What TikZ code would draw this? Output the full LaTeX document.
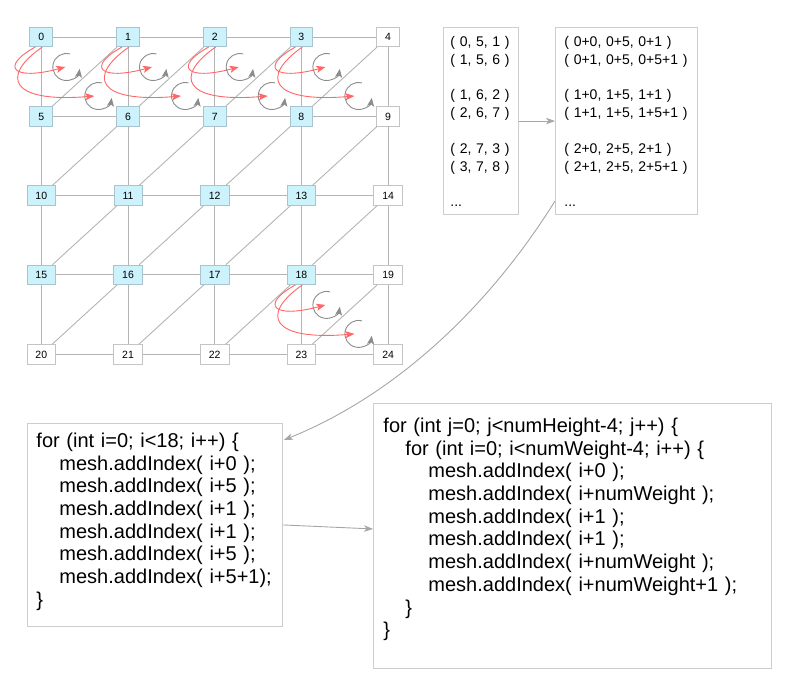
\documentclass[tikz,border=0pt]{standalone}
\usepackage{fontspec}
\setmainfont{Liberation Sans}
\usetikzlibrary{arrows.meta,calc}
\definecolor{nodeblue}{HTML}{CCF2FC}
\definecolor{nodeblueb}{HTML}{A9C4CF}
\definecolor{nodewb}{HTML}{C4C4C4}
\definecolor{gridgray}{HTML}{B4B4B4}
\definecolor{conngray}{HTML}{A6A6A6}
\definecolor{arcgray}{HTML}{8C8C8C}
\definecolor{redc}{HTML}{FF6666}
\definecolor{boxgray}{HTML}{CDCDCD}
\newcommand{\loopmark}[1]{%
  \draw[looparrow, shift={(#1)}, scale=1.08] (3.235,-12.074)
    .. controls (-3.623,-13.911) and (-10.638,-9.669) .. (-12.195,-2.742)
    .. controls (-13.752,4.185) and (-9.226,11.025) .. (-2.241,12.298)
    .. controls (4.744,13.571) and (11.390,8.771) .. (12.378,1.740);}
\begin{document}
\begin{tikzpicture}[x=1pt,y=-1pt,
  vtx/.style={rectangle, line width=0.8pt, minimum height=19.5pt, inner xsep=8.5pt, inner ysep=0pt,
    text height=7.6pt, text depth=0pt, font=\fontsize{10.5pt}{12pt}\selectfont},
  gridline/.style={draw=gridgray, line width=0.9pt},
  redarrow/.style={draw=redc, line width=0.9pt, -{Stealth[length=9pt,width=7pt,inset=2pt]}},
  looparrow/.style={draw=arcgray, line width=0.9pt, -{Stealth[length=8.5pt,width=7pt,inset=2pt]}},
  conn/.style={draw=conngray, line width=0.9pt, -{Stealth[length=9pt,width=6.5pt,inset=2.5pt]}},
  listbox/.style={draw=boxgray, line width=0.9pt, anchor=north west, align=left, inner ysep=7pt,
    font=\fontsize{14pt}{17.8pt}\selectfont},
  codebox/.style={draw=boxgray, line width=0.9pt, anchor=north west, align=left, inner ysep=9pt,
    font=\fontsize{20pt}{22.7pt}\selectfont}
]
\useasboundingbox (0,0) rectangle (800,700);

% grid vertices
\foreach \i in {0,...,24}{
  \pgfmathtruncatemacro\cc{mod(\i,5)}
  \pgfmathtruncatemacro\rr{div(\i,5)}
  \pgfmathtruncatemacro\isb{(\cc<4)&&(\rr<4)}
  \ifnum\isb=1 \def\fc{nodeblue}\def\dc{nodeblueb}\else\def\fc{white}\def\dc{nodewb}\fi
  \node[vtx, fill=\fc, draw=\dc] (n\i) at ({41.3+86.7*\cc},{37+79.3*\rr}) {\i};
}
% horizontal edges
\foreach \r in {0,...,4}{\foreach \c in {0,...,3}{
  \pgfmathtruncatemacro\a{5*\r+\c}\pgfmathtruncatemacro\b{5*\r+\c+1}
  \draw[gridline] (n\a) -- (n\b);}}
% vertical edges
\foreach \r in {0,...,3}{\foreach \c in {0,...,4}{
  \pgfmathtruncatemacro\a{5*\r+\c}\pgfmathtruncatemacro\b{5*\r+\c+5}
  \draw[gridline] (n\a) -- (n\b);}}
% diagonals
\foreach \r in {0,...,3}{\foreach \c in {0,...,3}{
  \pgfmathtruncatemacro\a{5*\r+\c+5}\pgfmathtruncatemacro\b{5*\r+\c+1}
  \draw[gridline] (n\a) -- (n\b);}}

% triangle order marks
\foreach \n in {0,1,2,3,18}{
  \draw[redarrow, shift={(n\n.center)}] (-6,10) .. controls (-42,30) and (-28,44) .. (24,30);
  \draw[redarrow, shift={(n\n.center)}] (1,10) .. controls (-42,40) and (-30,66) .. (53,59);
  \loopmark{$(n\n.center)+(25,30)$}
  \loopmark{$(n\n.center)+(57,59)$}
}

% index lists
\node[listbox, text width=61pt, inner xsep=7pt] (L) at (443,27)
  {\rule{0pt}{12pt}( 0, 5, 1 )\\( 1, 5, 6 )\\[17.8pt]( 1, 6, 2 )\\( 2, 6, 7 )\\[17.8pt]( 2, 7, 3 )\\( 3, 7, 8 )\\[17.8pt]...\rule[-1pt]{0pt}{1pt}};
\node[listbox, text width=124pt, inner xsep=9pt] (R) at (555,27)
  {\rule{0pt}{12pt}( 0+0, 0+5, 0+1 )\\( 0+1, 0+5, 0+5+1 )\\[17.8pt]( 1+0, 1+5, 1+1 )\\( 1+1, 1+5, 1+5+1 )\\[17.8pt]( 2+0, 2+5, 2+1 )\\( 2+1, 2+5, 2+5+1 )\\[17.8pt]...\rule[-1pt]{0pt}{1pt}};

% code boxes
\node[codebox, text width=237pt, inner xsep=9pt] (code1) at (27,423)
  {\rule{0pt}{15pt}for (int i=0; i<18; i++) \{\\
   \hspace*{23pt}mesh.addIndex( i+0 );\\
   \hspace*{23pt}mesh.addIndex( i+5 );\\
   \hspace*{23pt}mesh.addIndex( i+1 );\\
   \hspace*{23pt}mesh.addIndex( i+1 );\\
   \hspace*{23pt}mesh.addIndex( i+5 );\\
   \hspace*{23pt}mesh.addIndex( i+5+1);\\
   \}\rule[-11.1pt]{0pt}{11.1pt}};
\node[codebox, text width=378pt, inner xsep=10pt] (code2) at (373,403)
  {\rule{0pt}{20pt}for (int j=0; j<numHeight-4; j++) \{\\
   \hspace*{22pt}for (int i=0; i<numWeight-4; i++) \{\\
   \hspace*{45pt}mesh.addIndex( i+0 );\\
   \hspace*{45pt}mesh.addIndex( i+numWeight );\\
   \hspace*{45pt}mesh.addIndex( i+1 );\\
   \hspace*{45pt}mesh.addIndex( i+1 );\\
   \hspace*{45pt}mesh.addIndex( i+numWeight );\\
   \hspace*{45pt}mesh.addIndex( i+numWeight+1 );\\
   \hspace*{22pt}\}\\
   \}\rule[-22.7pt]{0pt}{22.7pt}};

% connectors
\draw[conn] (L) -- (R);
\coordinate (rout) at ($(R.south west)+(0,-14)$);
\coordinate (c1in) at ($(code1.north east)+(1,17)$);
\draw[conn] (rout) .. controls +(-65,104) and +(114,-46) .. (c1in);
\coordinate (c2in) at ($(code2.west)+(0,-7)$);
\draw[conn] (code1.east) -- (c2in);
\end{tikzpicture}
\end{document}
